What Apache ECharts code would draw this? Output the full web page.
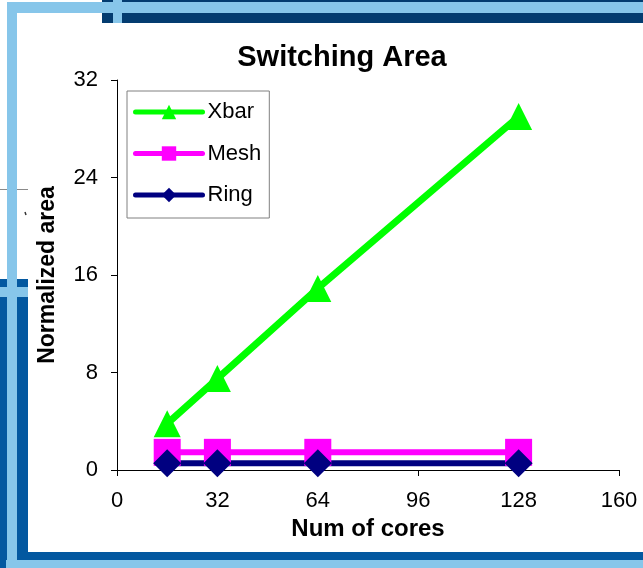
<!DOCTYPE html>
<html>
<head>
<meta charset="utf-8">
<script src="https://cdn.jsdelivr.net/npm/echarts@6/dist/echarts.min.js"></script>
<style>
  html, body { margin: 0; padding: 0; background: #ffffff; }
  #chart { width: 643px; height: 568px; }
</style>
</head>
<body>
<div id="chart"></div>
<script>
// Number of cores on the x axis
const cores = [16, 32, 64, 128];
// Normalized switching area per topology
const xbarArea = [3.8, 7.5, 14.9, 29.0];
const meshArea = [1.45, 1.45, 1.45, 1.45];
const ringArea = [0.55, 0.55, 0.55, 0.55];
// Axis ranges and tick steps
const xTicks = { min: 0, max: 160, step: 32 };
const yTicks = { min: 0, max: 32, step: 8 };

const FONT = '"Liberation Sans", Arial, sans-serif';
const LIGHT = '#87C6EA';
const NAVY = '#033C70';
const BLUE = '#0358A0';

function pairs(xs, ys) {
  return xs.map((x, i) => [x, ys[i]]);
}

// Slide frame bands drawn behind the chart
const frame = [
  { type: 'rect', shape: { x: 102, y: 0, width: 541, height: 23 }, style: { fill: NAVY } },
  { type: 'rect', shape: { x: 0, y: 279, width: 28, height: 289 }, style: { fill: BLUE } },
  { type: 'rect', shape: { x: 17, y: 552, width: 626, height: 9 }, style: { fill: BLUE } },
  { type: 'line', shape: { x1: 0, y1: 189.5, x2: 28, y2: 189.5 }, style: { stroke: '#8a8a8a', lineWidth: 1 } },
  { type: 'line', shape: { x1: 25, y1: 212, x2: 26, y2: 215 }, style: { stroke: '#333333', lineWidth: 1.5 } },
  { type: 'rect', shape: { x: 7, y: 2, width: 636, height: 11 }, style: { fill: LIGHT } },
  { type: 'rect', shape: { x: 113, y: 0, width: 9, height: 23 }, style: { fill: LIGHT } },
  { type: 'rect', shape: { x: 7, y: 2, width: 10, height: 566 }, style: { fill: LIGHT } },
  { type: 'rect', shape: { x: 0, y: 287, width: 28, height: 10 }, style: { fill: LIGHT } },
  { type: 'rect', shape: { x: 6, y: 560, width: 637, height: 8 }, style: { fill: LIGHT } }
].map(e => Object.assign({ silent: true, z: -10 }, e));

const chart = echarts.init(document.getElementById('chart'), null, { renderer: 'canvas' });

chart.setOption({
  backgroundColor: '#ffffff',
  animation: false,
  textStyle: { fontFamily: FONT },
  title: {
    text: 'Switching Area',
    left: 342,
    textAlign: 'center',
    top: 43,
    padding: 0,
    textStyle: { fontFamily: FONT, fontSize: 29, fontWeight: 'bold', color: '#000000' }
  },
  graphic: frame,
  grid: {
    left: 117, top: 80, width: 502, height: 390,
    outerBoundsMode: 'none'
  },
  legend: {
    orient: 'vertical',
    left: 127,
    top: 91,
    padding: [10, 8, 12, 6],
    backgroundColor: '#ffffff',
    borderColor: '#808080',
    borderWidth: 1,
    borderRadius: 0,
    itemWidth: 67,
    itemHeight: 18,
    itemGap: 19.5,
    lineStyle: { width: 5, cap: 'round' },
    textStyle: { fontFamily: FONT, fontSize: 22, color: '#000000' },
    data: ['Xbar', 'Mesh', 'Ring']
  },
  xAxis: {
    type: 'value',
    min: xTicks.min, max: xTicks.max, interval: xTicks.step,
    name: 'Num of cores',
    nameLocation: 'middle',
    nameGap: 40,
    nameTextStyle: { fontFamily: FONT, fontSize: 24, fontWeight: 'bold', color: '#000000' },
    axisLine: { onZero: false, lineStyle: { color: '#000000', width: 1 } },
    axisTick: { show: true, inside: false, length: 6, lineStyle: { color: '#000000' } },
    axisLabel: { fontFamily: FONT, fontSize: 22, color: '#000000', margin: 20 },
    splitLine: { show: false }
  },
  yAxis: {
    type: 'value',
    min: yTicks.min, max: yTicks.max, interval: yTicks.step,
    name: 'Normalized area',
    nameLocation: 'middle',
    nameGap: 58,
    nameTextStyle: { fontFamily: FONT, fontSize: 23, fontWeight: 'bold', color: '#000000' },
    axisLine: { show: true, onZero: false, lineStyle: { color: '#000000', width: 1 } },
    axisTick: { show: true, inside: false, length: 6, lineStyle: { color: '#000000' } },
    axisLabel: { fontFamily: FONT, fontSize: 22, color: '#000000', margin: 19 },
    splitLine: { show: false }
  },
  series: [
    {
      name: 'Xbar', type: 'line', data: pairs(cores, xbarArea),
      symbol: 'triangle', symbolSize: 27,
      itemStyle: { color: '#00FF00' },
      lineStyle: { color: '#00FF00', width: 7, cap: 'round', join: 'round' }
    },
    {
      name: 'Mesh', type: 'line', data: pairs(cores, meshArea),
      symbol: 'rect', symbolSize: 27,
      itemStyle: { color: '#FF00FF' },
      lineStyle: { color: '#FF00FF', width: 6 }
    },
    {
      name: 'Ring', type: 'line', data: pairs(cores, ringArea),
      symbol: 'diamond', symbolSize: 28,
      itemStyle: { color: '#000080' },
      lineStyle: { color: '#000080', width: 6 }
    }
  ]
});
</script>
</body>
</html>
